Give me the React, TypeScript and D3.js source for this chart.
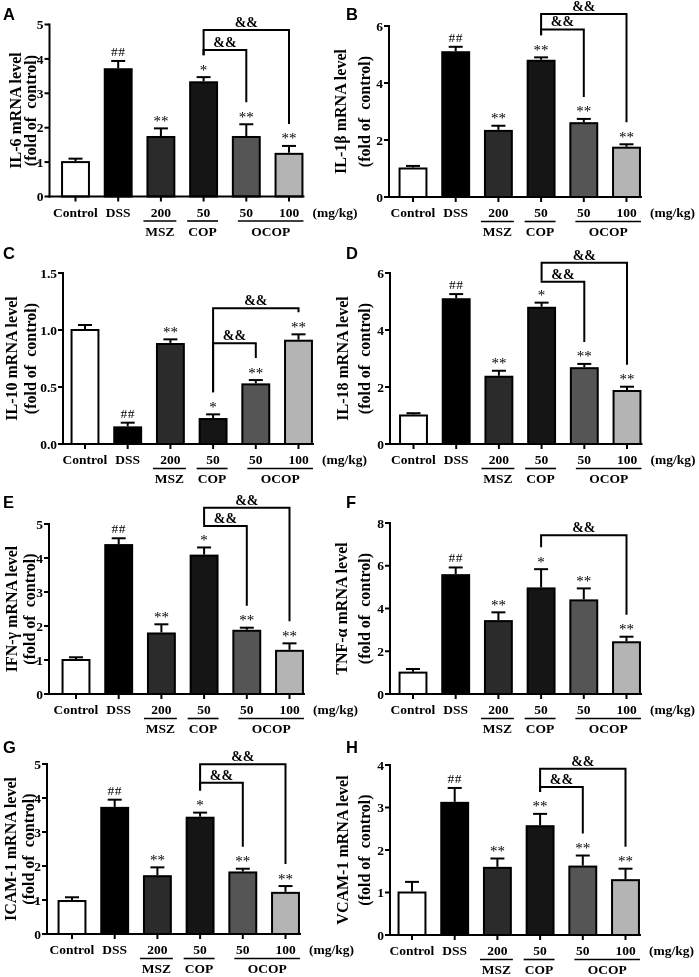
import React from "react";
import * as d3 from "d3";

// ---------- shared categories / styles ----------
const tickLabels = ["Control", "DSS", "200", "50", "50", "100"];
const barFills = ["#ffffff", "#000000", "#2b2b2b", "#151515", "#555555", "#b4b4b4"];
const groupLabels = ["MSZ", "COP", "OCOP"];
const groupFrom = [2, 3, 4];
const groupTo = [2, 3, 5];
const unitLabel = "(mg/kg)";
const bracketFrom = 3; // COP

// ---------- data ----------
// A: IL-6
const il6Mean = [1.0, 3.7, 1.73, 3.32, 1.73, 1.24];
const il6Err = [0.1, 0.24, 0.25, 0.15, 0.37, 0.23];
const il6Sig = ["", "##", "**", "*", "**", "**"];
const il6Ticks = [0, 1, 2, 3, 4, 5];
const il6BrTo = [5, 4];
const il6BrLevel = [4.84, 4.26];

// B: IL-1β
const il1bMean = [1.0, 5.08, 2.32, 4.78, 2.59, 1.73];
const il1bErr = [0.09, 0.19, 0.18, 0.12, 0.15, 0.12];
const il1bSig = ["", "##", "**", "**", "**", "**"];
const il1bTicks = [0, 2, 4, 6];
const il1bBrTo = [5, 4];
const il1bBrLevel = [6.42, 5.88];

// C: IL-10
const il10Mean = [1.0, 0.146, 0.877, 0.219, 0.523, 0.906];
const il10Err = [0.044, 0.041, 0.041, 0.041, 0.038, 0.056];
const il10Sig = ["", "##", "**", "*", "**", "**"];
const il10Ticks = [0, 0.5, 1.0, 1.5];
const il10BrTo = [5, 4];
const il10BrLevel = [1.19, 0.883];

// D: IL-18
const il18Mean = [1.0, 5.08, 2.36, 4.78, 2.66, 1.86];
const il18Err = [0.08, 0.18, 0.21, 0.18, 0.15, 0.15];
const il18Sig = ["", "##", "**", "*", "**", "**"];
const il18Ticks = [0, 2, 4, 6];
const il18BrTo = [5, 4];
const il18BrLevel = [6.36, 5.69];

// E: IFN-γ
const ifngMean = [1.0, 4.38, 1.78, 4.07, 1.86, 1.27];
const ifngErr = [0.08, 0.2, 0.27, 0.24, 0.09, 0.22];
const ifngSig = ["", "##", "**", "*", "**", "**"];
const ifngTicks = [0, 1, 2, 3, 4, 5];
const ifngBrTo = [5, 4];
const ifngBrLevel = [5.48, 4.94];

// F: TNF-α
const tnfaMean = [1.0, 5.56, 3.41, 4.94, 4.38, 2.42];
const tnfaErr = [0.17, 0.36, 0.41, 0.9, 0.56, 0.26];
const tnfaSig = ["", "##", "**", "*", "**", "**"];
const tnfaTicks = [0, 2, 4, 6, 8];
const tnfaBrTo = [5];
const tnfaBrLevel = [7.43];

// G: ICAM-1
const icamMean = [0.97, 3.71, 1.7, 3.42, 1.81, 1.21];
const icamErr = [0.11, 0.24, 0.26, 0.15, 0.11, 0.2];
const icamSig = ["", "##", "**", "*", "**", "**"];
const icamTicks = [0, 1, 2, 3, 4, 5];
const icamBrTo = [5, 4];
const icamBrLevel = [4.99, 4.45];

// H: VCAM-1
const vcamMean = [1.0, 3.11, 1.58, 2.56, 1.61, 1.29];
const vcamErr = [0.25, 0.35, 0.22, 0.29, 0.26, 0.27];
const vcamSig = ["", "##", "**", "**", "**", "**"];
const vcamTicks = [0, 1, 2, 3, 4];
const vcamBrTo = [5, 4];
const vcamBrLevel = [3.91, 3.48];

// ---------- layout (positions only) ----------
type Layout = {
  letter: string; lx: number; ly: number;
  axisX: number; top: number; base: number; first: number;
  t1x: number; t2x: number; fmt: string;
};

const SERIF = '"Liberation Serif", "Times New Roman", Times, serif';
const SANS = '"Liberation Sans", Arial, Helvetica, sans-serif';
const STEP = 42.7;

type Panel = Layout & {
  title: string; mean: number[]; err: number[]; sig: string[]; ticks: number[];
  brTo: number[]; brLevel: number[];
};

const panels: Panel[] = [
  { letter: "A", lx: 3, ly: 20, axisX: 49.5, top: 24.5, base: 196.5, first: 75.5, t1x: 20.5, t2x: 35.5, fmt: "d",
    title: "IL-6 mRNA level", mean: il6Mean, err: il6Err, sig: il6Sig, ticks: il6Ticks, brTo: il6BrTo, brLevel: il6BrLevel },
  { letter: "B", lx: 346, ly: 20, axisX: 389, top: 26, base: 197, first: 413, t1x: 346, t2x: 370, fmt: "d",
    title: "IL-1β mRNA level", mean: il1bMean, err: il1bErr, sig: il1bSig, ticks: il1bTicks, brTo: il1bBrTo, brLevel: il1bBrLevel },
  { letter: "C", lx: 3, ly: 259, axisX: 63, top: 273, base: 444, first: 85, t1x: 17, t2x: 36, fmt: ".1f",
    title: "IL-10 mRNA level", mean: il10Mean, err: il10Err, sig: il10Sig, ticks: il10Ticks, brTo: il10BrTo, brLevel: il10BrLevel },
  { letter: "D", lx: 346, ly: 259, axisX: 390, top: 273, base: 444, first: 413.5, t1x: 347.5, t2x: 370, fmt: "d",
    title: "IL-18 mRNA level", mean: il18Mean, err: il18Err, sig: il18Sig, ticks: il18Ticks, brTo: il18BrTo, brLevel: il18BrLevel },
  { letter: "E", lx: 3, ly: 508, axisX: 49, top: 524, base: 694, first: 76, t1x: 17, t2x: 35, fmt: "d",
    title: "IFN-γ mRNA level", mean: ifngMean, err: ifngErr, sig: ifngSig, ticks: ifngTicks, brTo: ifngBrTo, brLevel: ifngBrLevel },
  { letter: "F", lx: 346, ly: 508, axisX: 390, top: 523, base: 694, first: 413, t1x: 347, t2x: 370, fmt: "d",
    title: "TNF-α mRNA level", mean: tnfaMean, err: tnfaErr, sig: tnfaSig, ticks: tnfaTicks, brTo: tnfaBrTo, brLevel: tnfaBrLevel },
  { letter: "G", lx: 3, ly: 753, axisX: 47, top: 764, base: 934, first: 72, t1x: 16, t2x: 34, fmt: "d",
    title: "ICAM-1 mRNA level", mean: icamMean, err: icamErr, sig: icamSig, ticks: icamTicks, brTo: icamBrTo, brLevel: icamBrLevel },
  { letter: "H", lx: 346, ly: 753, axisX: 390, top: 765, base: 935, first: 412, t1x: 347.5, t2x: 370, fmt: "d",
    title: "VCAM-1 mRNA level", mean: vcamMean, err: vcamErr, sig: vcamSig, ticks: vcamTicks, brTo: vcamBrTo, brLevel: vcamBrLevel },
];

const groupInsetL = [-4, -3, 5];
const groupInsetR = [2, 1, 1];

function BarPanel({ p }: { p: Panel }) {
  const idx = d3.range(tickLabels.length);
  const yMax = p.ticks[p.ticks.length - 1];
  const y = d3.scaleLinear().domain([0, yMax]).range([p.base, p.top]);
  const r0 = p.first - STEP / 2;
  const x = d3
    .scaleBand<number>()
    .domain(idx)
    .range([r0, r0 + STEP * idx.length])
    .paddingInner(0.37)
    .paddingOuter(0.185);
  const bw = x.bandwidth();
  const cx = (i: number) => (x(i) as number) + bw / 2;
  const errTop = (i: number) => y(p.mean[i] + p.err[i]);
  const fmt = d3.format(p.fmt);
  const lastRight = (x(idx.length - 1) as number) + bw;
  const midY = (p.top + p.base) / 2;
  const legGap = 22;

  return (
    <g>
      <text x={p.lx} y={p.ly} fontFamily={SANS} fontWeight="bold" fontSize={16.5}>
        {p.letter}
      </text>
      {/* y-axis titles */}
      <text transform={`translate(${p.t1x},${midY}) rotate(-90)`} textAnchor="middle"
        fontFamily={SERIF} fontWeight="bold" fontSize={16}>{p.title}</text>
      <text transform={`translate(${p.t2x},${midY}) rotate(-90)`} textAnchor="middle"
        fontFamily={SERIF} fontWeight="bold" fontSize={16} style={{ whiteSpace: "pre" }}>(fold of  control)</text>

      {/* bars */}
      {idx.map((i) => (
        <rect key={"b" + i} x={x(i)} y={y(p.mean[i])} width={bw} height={p.base - y(p.mean[i])}
          fill={barFills[i]} stroke="#000" strokeWidth={2} />
      ))}
      {/* error bars */}
      {idx.map((i) => (
        <g key={"e" + i} stroke="#000" strokeWidth={2}>
          <line x1={cx(i)} x2={cx(i)} y1={y(p.mean[i]) - 1} y2={errTop(i)} />
          <line x1={cx(i) - 7} x2={cx(i) + 7} y1={errTop(i)} y2={errTop(i)} />
        </g>
      ))}
      {/* significance marks */}
      {idx.map((i) =>
        p.sig[i] ? (
          <text key={"s" + i} x={cx(i)} y={errTop(i) - (p.sig[i] === "##" ? 5 : 2.5)} textAnchor="middle"
            fontFamily={SERIF} fontSize={p.sig[i] === "##" ? 13.5 : 15} fill="#000"
            letterSpacing={p.sig[i] === "##" ? 0.5 : 0}>
            {p.sig[i]}
          </text>
        ) : null
      )}

      {/* axes */}
      <g stroke="#000" strokeWidth={2}>
        <line x1={p.axisX} x2={p.axisX} y1={p.top - 1} y2={p.base + 1} />
        <line x1={p.axisX - 1} x2={lastRight + 2} y1={p.base} y2={p.base} />
        {p.ticks.map((t) => (
          <line key={"yt" + t} x1={p.axisX - 5} x2={p.axisX} y1={y(t)} y2={y(t)} />
        ))}
        {idx.map((i) => (
          <line key={"xt" + i} x1={cx(i)} x2={cx(i)} y1={p.base} y2={p.base + 5} />
        ))}
      </g>
      {p.ticks.map((t) => (
        <text key={"yl" + t} x={p.axisX - 6} y={y(t) + 4.7} textAnchor="end"
          fontFamily={SERIF} fontWeight="bold" fontSize={13.5}>
          {fmt(t)}
        </text>
      ))}
      {idx.map((i) => (
        <text key={"xl" + i} x={cx(i)} y={p.base + 20} textAnchor="middle"
          fontFamily={SERIF} fontWeight="bold" fontSize={13.5}>
          {tickLabels[i]}
        </text>
      ))}
      <text x={lastRight + 10} y={p.base + 20} fontFamily={SERIF} fontWeight="bold" fontSize={13.5}>
        {unitLabel}
      </text>
      {/* group underlines */}
      {groupLabels.map((g, k) => {
        const xa = (x(groupFrom[k]) as number) + groupInsetL[k];
        const xb = (x(groupTo[k]) as number) + bw + groupInsetR[k];
        return (
          <g key={"g" + k}>
            <line x1={xa} x2={xb} y1={p.base + 24.5} y2={p.base + 24.5} stroke="#000" strokeWidth={1.6} />
            <text x={(xa + xb) / 2} y={p.base + 39} textAnchor="middle"
              fontFamily={SERIF} fontWeight="bold" fontSize={13.5}>
              {g}
            </text>
          </g>
        );
      })}
      {/* comparison brackets */}
      {p.brTo.map((to, k) => {
        const xl = cx(bracketFrom);
        const xr = cx(to);
        const yl = y(p.brLevel[k]);
        return (
          <g key={"br" + k}>
            <path
              d={`M${xl},${errTop(bracketFrom) - legGap}V${yl}H${xr}V${errTop(to) - legGap}`}
              fill="none" stroke="#000" strokeWidth={2}
            />
            <text x={(xl + xr) / 2} y={yl - 3} textAnchor="middle"
              fontFamily={SERIF} fontWeight="bold" fontSize={14}>
              &amp;&amp;
            </text>
          </g>
        );
      })}
    </g>
  );
}

export default function App() {
  return (
    <svg width={699} height={977} viewBox="0 0 699 977"
      style={{ position: "absolute", left: 0, top: 0, background: "#fff", willChange: "transform" }}>
      <rect x={0} y={0} width={699} height={977} fill="#fff" />
      {panels.map((p) => (
        <BarPanel key={p.letter} p={p} />
      ))}
    </svg>
  );
}
